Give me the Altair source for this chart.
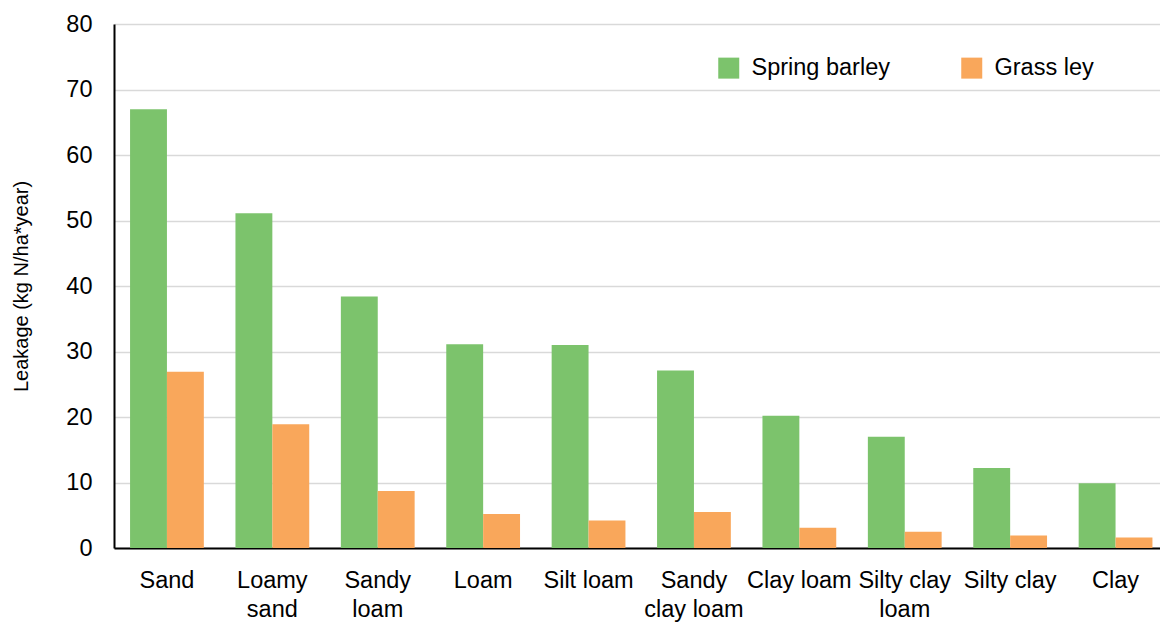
import altair as alt
import pandas as pd

soils = ["Sand", "Loamy|sand", "Sandy|loam", "Loam", "Silt loam", "Sandy|clay loam",
         "Clay loam", "Silty clay|loam", "Silty clay", "Clay"]
spring_barley = [67.0, 51.1, 38.4, 31.1, 31.0, 27.1, 20.2, 17.0, 12.2, 9.9]
grass_ley = [26.9, 18.9, 8.7, 5.2, 4.2, 5.5, 3.1, 2.5, 1.9, 1.6]
crops = ["Spring barley", "Grass ley"]
colors = ["#7CC36C", "#F9A75B"]
y_ticks = [0, 10, 20, 30, 40, 50, 60, 70, 80]

rows = []
for s, b, g in zip(soils, spring_barley, grass_ley):
    rows.append({"soil": s, "crop": crops[0], "value": b})
    rows.append({"soil": s, "crop": crops[1], "value": g})
df = pd.DataFrame(rows)

font = "Liberation Sans"

chart = alt.Chart(df).mark_bar().encode(
    x=alt.X("soil:N", sort=soils,
            scale=alt.Scale(paddingInner=0.3, paddingOuter=0.112, align=0.68),
            axis=alt.Axis(title=None, labelAngle=0, ticks=False, domain=True,
                          domainColor="black", domainWidth=2,
                          labelExpr="split(datum.label, '|')",
                          labelFont=font, labelFontSize=23.5, labelColor="black",
                          labelPadding=20, labelLineHeight=29, labelBaseline="top")),
    xOffset=alt.XOffset("crop:N", sort=crops, scale=alt.Scale(paddingInner=0, paddingOuter=0)),
    y=alt.Y("value:Q", scale=alt.Scale(domain=[0, 80]),
            axis=alt.Axis(title="Leakage (kg N/ha*year)", values=y_ticks, ticks=False,
                          grid=True, gridColor="#d9d9d9", gridWidth=1.5,
                          domain=True, domainColor="black", domainWidth=2,
                          labelFont=font, labelFontSize=23.5, labelColor="black",
                          labelPadding=22, titleFont=font, titleFontSize=20,
                          titleFontWeight="normal", titleColor="black", titlePadding=34)),
    color=alt.Color("crop:N", sort=crops,
                    scale=alt.Scale(domain=crops, range=colors),
                    legend=alt.Legend(title=None, orient="none", legendX=603, legendY=32,
                                      direction="horizontal", symbolType="square",
                                      symbolSize=441, symbolStrokeWidth=0, symbolOpacity=1,
                                      labelFont=font, labelFontSize=23.5, labelColor="black",
                                      labelOffset=11, columnPadding=70)),
).properties(
    width=1046, height=524,
    autosize=alt.AutoSizeParams(type="none"),
    padding={"left": 106, "top": 16, "right": 0, "bottom": 80},
).configure_view(stroke=None)

chart.save("out.html", embed_options={"renderer": "svg", "actions": False})
